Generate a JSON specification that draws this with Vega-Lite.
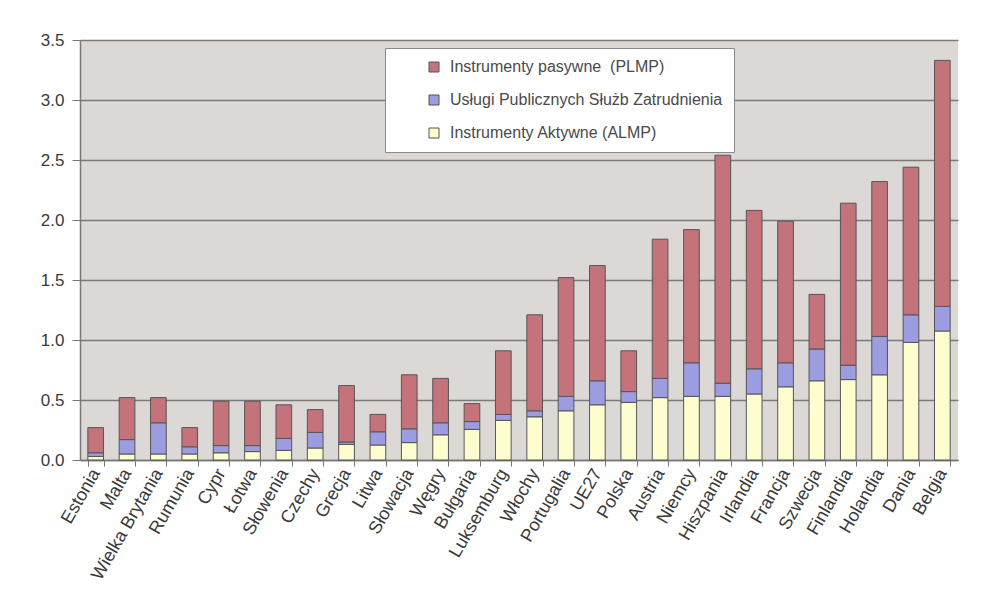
{
  "$schema": "https://vega.github.io/schema/vega-lite/v6.json",
  "autosize": "none",
  "width": 878,
  "height": 420,
  "padding": {"left": 80, "top": 40, "right": 37, "bottom": 142},
  "background": "white",
  "data": {
    "values": [
      {"kraj": "Estonia", "ALMP": 0.03, "PES": 0.03, "PLMP": 0.21},
      {"kraj": "Malta", "ALMP": 0.05, "PES": 0.12, "PLMP": 0.35},
      {"kraj": "Wielka Brytania", "ALMP": 0.05, "PES": 0.26, "PLMP": 0.21},
      {"kraj": "Rumunia", "ALMP": 0.05, "PES": 0.06, "PLMP": 0.16},
      {"kraj": "Cypr", "ALMP": 0.06, "PES": 0.06, "PLMP": 0.37},
      {"kraj": "Łotwa", "ALMP": 0.07, "PES": 0.05, "PLMP": 0.37},
      {"kraj": "Słowenia", "ALMP": 0.08, "PES": 0.10, "PLMP": 0.28},
      {"kraj": "Czechy", "ALMP": 0.10, "PES": 0.13, "PLMP": 0.19},
      {"kraj": "Grecja", "ALMP": 0.13, "PES": 0.02, "PLMP": 0.47},
      {"kraj": "Litwa", "ALMP": 0.125, "PES": 0.11, "PLMP": 0.145},
      {"kraj": "Słowacja", "ALMP": 0.145, "PES": 0.115, "PLMP": 0.45},
      {"kraj": "Węgry", "ALMP": 0.21, "PES": 0.10, "PLMP": 0.37},
      {"kraj": "Bułgaria", "ALMP": 0.255, "PES": 0.065, "PLMP": 0.15},
      {"kraj": "Luksemburg", "ALMP": 0.33, "PES": 0.05, "PLMP": 0.53},
      {"kraj": "Włochy", "ALMP": 0.36, "PES": 0.05, "PLMP": 0.80},
      {"kraj": "Portugalia", "ALMP": 0.41, "PES": 0.12, "PLMP": 0.99},
      {"kraj": "UE27", "ALMP": 0.46, "PES": 0.20, "PLMP": 0.96},
      {"kraj": "Polska", "ALMP": 0.48, "PES": 0.09, "PLMP": 0.34},
      {"kraj": "Austria", "ALMP": 0.52, "PES": 0.16, "PLMP": 1.16},
      {"kraj": "Niemcy", "ALMP": 0.53, "PES": 0.28, "PLMP": 1.11},
      {"kraj": "Hiszpania", "ALMP": 0.53, "PES": 0.11, "PLMP": 1.90},
      {"kraj": "Irlandia", "ALMP": 0.55, "PES": 0.21, "PLMP": 1.32},
      {"kraj": "Francja", "ALMP": 0.61, "PES": 0.20, "PLMP": 1.18},
      {"kraj": "Szwecja", "ALMP": 0.66, "PES": 0.265, "PLMP": 0.455},
      {"kraj": "Finlandia", "ALMP": 0.67, "PES": 0.12, "PLMP": 1.35},
      {"kraj": "Holandia", "ALMP": 0.71, "PES": 0.32, "PLMP": 1.29},
      {"kraj": "Dania", "ALMP": 0.98, "PES": 0.23, "PLMP": 1.23},
      {"kraj": "Belgia", "ALMP": 1.075, "PES": 0.205, "PLMP": 2.05}
    ]
  },
  "transform": [{"fold": ["ALMP", "PES", "PLMP"], "as": ["kod", "wartosc"]}],
  "mark": {"type": "bar", "stroke": "#555555", "strokeWidth": 1},
  "encoding": {
    "x": {
      "field": "kraj",
      "type": "nominal",
      "sort": null,
      "title": null,
      "scale": {"paddingInner": 0.5, "paddingOuter": 0.25},
      "axis": {
        "labelAngle": -60,
        "labelFontSize": 18,
        "labelFont": "Liberation Sans",
        "labelColor": "#3a3a3a",
        "labelPadding": 4,
        "tickBand": "extent",
        "tickColor": "#777777",
        "tickSize": 6,
        "domainColor": "#777777",
        "domainWidth": 1.5,
        "grid": false
      }
    },
    "y": {
      "field": "wartosc",
      "type": "quantitative",
      "stack": "zero",
      "title": null,
      "scale": {"domain": [0, 3.5], "nice": false},
      "axis": {
        "values": [0, 0.5, 1, 1.5, 2, 2.5, 3, 3.5],
        "format": ".1f",
        "labelFontSize": 17,
        "labelFont": "Liberation Sans",
        "labelColor": "#3a3a3a",
        "labelPadding": 8,
        "tickSize": 8,
        "tickColor": "#777777",
        "domainColor": "#777777",
        "domainWidth": 1.5,
        "grid": true,
        "gridColor": "#7a7a7a",
        "gridWidth": 1.5
      }
    },
    "color": {
      "field": "kod",
      "type": "nominal",
      "scale": {
        "domain": ["PLMP", "PES", "ALMP"],
        "range": ["#c4737b", "#9c9ce0", "#fdfdcf"]
      },
      "legend": {
        "title": null,
        "orient": "none",
        "legendX": 305,
        "legendY": 8,
        "fillColor": "white",
        "strokeColor": "#8a8a8a",
        "padding": 11,
        "symbolType": "square",
        "symbolSize": 100,
        "symbolStrokeColor": "#555555",
        "symbolStrokeWidth": 1,
        "symbolOffset": 30,
        "labelOffset": 8,
        "labelFontSize": 16,
        "labelFont": "Liberation Sans",
        "labelColor": "#4a4a4a",
        "rowPadding": 17,
        "labelLimit": 400,
        "labelExpr": "datum.label == 'PLMP' ? 'Instrumenty pasywne\u00a0 (PLMP)' : datum.label == 'PES' ? 'Usługi Publicznych Służb Zatrudnienia' : 'Instrumenty Aktywne (ALMP)'"
      }
    },
    "order": {"field": "kod", "sort": "ascending"}
  },
  "config": {
    "view": {"fill": "#dcd8d5", "stroke": null}
  }
}
